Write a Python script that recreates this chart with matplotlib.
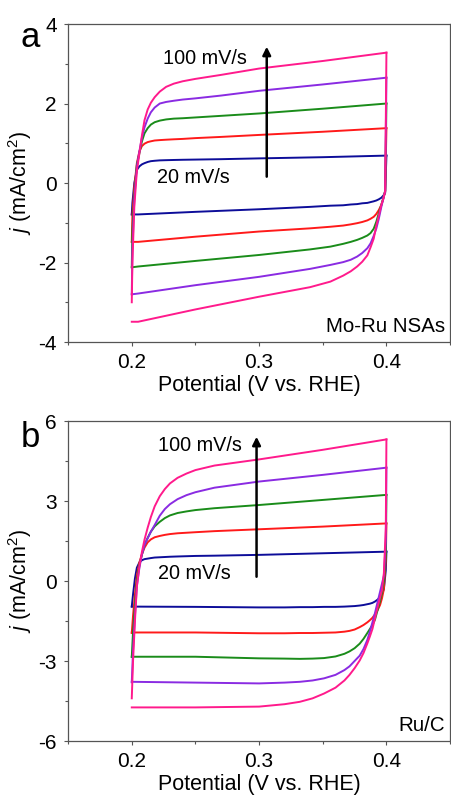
import matplotlib
matplotlib.use("Agg")
import matplotlib.pyplot as plt
from matplotlib.ticker import MultipleLocator

plt.rcParams['font.family'] = ['Liberation Sans', 'DejaVu Sans']
plt.rcParams['mathtext.fontset'] = 'custom'
plt.rcParams['mathtext.rm'] = 'Liberation Sans'
plt.rcParams['mathtext.it'] = 'Liberation Sans:italic'

scan_rates = ["20 mV/s", "40 mV/s", "60 mV/s", "80 mV/s", "100 mV/s"]
colors = ['#0D0D99', '#FF1A1A', '#1A8C1A', '#8A2BE2', '#FF1A8C']

# ---- Panel a: Mo-Ru NSAs ----
a_x_anodic = [0.200, 0.2005, 0.202, 0.204, 0.206, 0.208, 0.210, 0.2125, 0.215, 0.218,
              0.222, 0.227, 0.233, 0.240, 0.250, 0.270, 0.300, 0.350, 0.400]
a_anodic = [
    [-0.79, -0.50, 0.00, 0.33, 0.42, 0.47, 0.50, 0.53, 0.55, 0.56, 0.57, 0.575, 0.58, 0.585, 0.59, 0.60, 0.62, 0.65, 0.69],
    [-1.48, -0.80, -0.10, 0.50, 0.80, 0.93, 0.99, 1.03, 1.05, 1.07, 1.08, 1.09, 1.10, 1.11, 1.13, 1.16, 1.21, 1.29, 1.38],
    [-2.12, -1.20, -0.30, 0.45, 0.75, 1.05, 1.25, 1.38, 1.47, 1.53, 1.57, 1.60, 1.62, 1.63, 1.65, 1.69, 1.75, 1.87, 2.00],
    [-2.80, -1.70, -0.40, 0.40, 0.80, 1.15, 1.40, 1.62, 1.78, 1.90, 2.00, 2.04, 2.07, 2.10, 2.13, 2.20, 2.32, 2.48, 2.65],
    [-3.00, -2.00, -0.60, 0.30, 0.75, 1.20, 1.58, 1.85, 2.02, 2.16, 2.30, 2.42, 2.50, 2.56, 2.62, 2.72, 2.88, 3.07, 3.28],
]
a_x_cathodic = [0.400, 0.399, 0.3975, 0.396, 0.394, 0.392, 0.390, 0.3875, 0.385, 0.381,
                0.377, 0.372, 0.366, 0.356, 0.340, 0.320, 0.300, 0.250, 0.205, 0.200]
a_cathodic = [
    [0.69, -0.25, -0.32, -0.37, -0.41, -0.44, -0.46, -0.48, -0.50, -0.51, -0.53, -0.54, -0.56, -0.57, -0.60, -0.63, -0.66, -0.725, -0.79, -0.79],
    [1.38, -0.22, -0.40, -0.55, -0.68, -0.78, -0.85, -0.90, -0.94, -0.98, -1.01, -1.04, -1.07, -1.10, -1.14, -1.18, -1.22, -1.35, -1.48, -1.48],
    [2.00, -0.20, -0.38, -0.55, -0.76, -0.98, -1.15, -1.26, -1.32, -1.38, -1.43, -1.48, -1.53, -1.60, -1.67, -1.74, -1.81, -1.96, -2.10, -2.12],
    [2.65, -0.20, -0.40, -0.60, -0.90, -1.15, -1.33, -1.52, -1.64, -1.76, -1.85, -1.93, -1.99, -2.06, -2.16, -2.26, -2.36, -2.57, -2.78, -2.80],
    [3.28, -0.20, -0.40, -0.55, -0.82, -1.08, -1.40, -1.62, -1.82, -1.98, -2.10, -2.22, -2.33, -2.48, -2.62, -2.74, -2.86, -3.18, -3.49, -3.49],
]

# ---- Panel b: Ru/C ----
b_x_anodic = [0.200, 0.201, 0.2025, 0.204, 0.206, 0.208, 0.210, 0.2125, 0.215, 0.218,
              0.222, 0.226, 0.230, 0.236, 0.243, 0.250, 0.265, 0.300, 0.350, 0.400]
b_anodic = [
    [-0.96, -0.50, 0.10, 0.50, 0.70, 0.78, 0.82, 0.84, 0.86, 0.88, 0.89, 0.90, 0.91, 0.92, 0.93, 0.94, 0.95, 0.98, 1.04, 1.10],
    [-1.95, -1.30, -0.50, 0.20, 0.70, 1.00, 1.25, 1.45, 1.56, 1.64, 1.69, 1.73, 1.76, 1.79, 1.81, 1.83, 1.87, 1.94, 2.04, 2.16],
    [-2.85, -1.90, -0.90, 0.00, 0.60, 1.00, 1.35, 1.62, 1.85, 2.05, 2.22, 2.36, 2.46, 2.55, 2.61, 2.66, 2.73, 2.85, 3.04, 3.23],
    [-3.80, -2.60, -1.30, -0.20, 0.50, 1.00, 1.35, 1.60, 1.85, 2.10, 2.45, 2.70, 2.88, 3.07, 3.22, 3.33, 3.50, 3.73, 3.98, 4.25],
    [-4.40, -3.00, -1.50, -0.20, 0.55, 1.10, 1.55, 2.00, 2.40, 2.80, 3.18, 3.45, 3.66, 3.87, 4.03, 4.16, 4.33, 4.56, 4.92, 5.31],
]
b_x_cathodic = [0.400, 0.3995, 0.398, 0.3965, 0.395, 0.393, 0.391, 0.389, 0.387, 0.385, 0.382, 0.379,
                0.375, 0.371, 0.367, 0.360, 0.351, 0.342, 0.332, 0.320, 0.300, 0.250, 0.200]
b_cathodic = [
    [1.10, 0.40, -0.30, -0.50, -0.60, -0.70, -0.77, -0.82, -0.85, -0.87, -0.90, -0.92, -0.94, -0.95, -0.96, -0.97, -0.97, -0.98, -0.98, -0.99, -0.99, -0.97, -0.96],
    [2.16, 0.80, -0.30, -0.65, -0.90, -1.10, -1.25, -1.38, -1.47, -1.55, -1.65, -1.73, -1.82, -1.87, -1.90, -1.93, -1.94, -1.95, -1.95, -1.96, -1.96, -1.93, -1.93],
    [3.23, 1.00, 0.00, -0.45, -0.75, -1.10, -1.45, -1.65, -1.80, -1.95, -2.17, -2.35, -2.52, -2.64, -2.73, -2.83, -2.89, -2.91, -2.92, -2.91, -2.90, -2.84, -2.84],
    [4.25, 1.50, 0.20, -0.10, -0.40, -0.80, -1.20, -1.55, -1.90, -2.21, -2.55, -2.80, -3.00, -3.20, -3.34, -3.52, -3.65, -3.73, -3.78, -3.81, -3.84, -3.81, -3.78],
    [5.31, 2.00, 0.30, -0.35, -0.62, -1.00, -1.40, -1.80, -2.08, -2.34, -2.70, -2.98, -3.27, -3.52, -3.73, -4.00, -4.22, -4.40, -4.53, -4.62, -4.71, -4.74, -4.74],
]

x_ticks = [0.2, 0.3, 0.4]
a_yticks = [-4, -2, 0, 2, 4]
b_yticks = [-6, -3, 0, 3, 6]

fig = plt.figure(figsize=(4.51, 8.01), dpi=100)
ax_a = fig.add_axes([0.151, 0.573, 0.847, 0.397])
ax_b = fig.add_axes([0.151, 0.0749, 0.847, 0.3995])

panels = [
    (ax_a, a_x_anodic, a_anodic, a_x_cathodic, a_cathodic, a_yticks, 1, "a", 0.959, "Mo-Ru NSAs",
     (0.2245, 3.14), (0.220, 0.15), (0.306, 0.16, 3.43)),
    (ax_b, b_x_anodic, b_anodic, b_x_cathodic, b_cathodic, b_yticks, 1.5, "b", 0.95, "Ru/C",
     (0.2205, 5.1), (0.2205, 0.29), (0.298, 0.16, 5.41)),
]

for (ax, xan, an, xca, ca, yticks, yminor, letter, ly, sample, t100, t20, arr) in panels:
    for i in range(len(scan_rates)):
        ax.plot(xan, an[i], color=colors[i], lw=1.4, solid_joinstyle='round')
        ax.plot(xca, ca[i], color=colors[i], lw=1.4, solid_joinstyle='round')
    ax.set_xlim(0.15, 0.45)
    ax.set_ylim(yticks[0], yticks[-1])
    ax.set_xticks(x_ticks)
    ax.set_xticklabels(["0.2", "0.3", "0.4"])
    ax.set_yticks(yticks)
    ax.set_yticklabels([str(t) for t in yticks])
    ax.xaxis.set_minor_locator(MultipleLocator(0.05))
    ax.yaxis.set_minor_locator(MultipleLocator(yminor))
    ax.tick_params(which='major', direction='out', length=3, width=0.8, color='#555555',
                   labelsize=15, pad=5, top=False, right=False)
    ax.tick_params(which='minor', direction='out', length=2, width=0.8, color='#555555',
                   top=False, right=False)
    for sp in ax.spines.values():
        sp.set_color('#555555')
        sp.set_linewidth(0.9)
    ax.set_xlabel("Potential (V vs. RHE)", fontsize=15.5, labelpad=2)
    ax.set_ylabel(r"$j$ (mA/cm$^2$)", fontsize=15.5, labelpad=3)
    ax.text(t100[0], t100[1], scan_rates[-1], fontsize=14.3, ha='left', va='center')
    ax.text(t20[0], t20[1], scan_rates[0], fontsize=14.3, ha='left', va='center')
    ax.annotate("", xy=(arr[0], arr[2]), xytext=(arr[0], arr[1]),
                arrowprops=dict(arrowstyle='-|>', color='black', lw=1.8,
                                mutation_scale=12, shrinkA=0, shrinkB=0))
    ax.text(0.987, 0.02, sample, transform=ax.transAxes, fontsize=14.8,
            ha='right', va='bottom')
    ax.text(-0.125, ly, letter, transform=ax.transAxes, fontsize=25,
            ha='left', va='center')

fig.savefig("out.png", dpi=100)
